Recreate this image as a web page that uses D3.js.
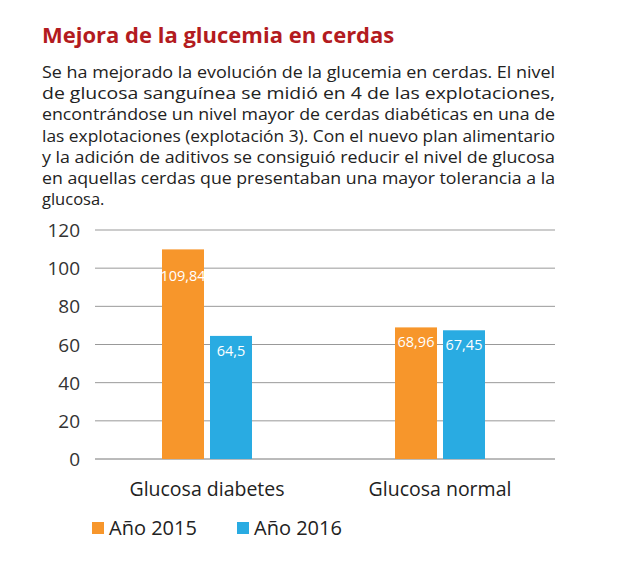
<!DOCTYPE html>
<html><head><meta charset="utf-8">
<script src="https://cdn.jsdelivr.net/npm/d3@7"></script>
<style>
body{margin:0;background:#fff;font-family:"Open Sans",sans-serif}
</style></head>
<body><svg id="c" width="621" height="573"></svg>
<script>
// ── Data ──────────────────────────────────────────────────────────────────────
const categories = ["Glucosa diabetes", "Glucosa normal"];
const seriesNames = ["Año 2015", "Año 2016"];
const values2015 = [109.84, 68.96];
const values2016 = [64.5, 67.45];
const yTicks = [0, 20, 40, 60, 80, 100, 120];
const colors = ["#f7962b", "#29abe2"];
const paragraph = [
  "Se ha mejorado la evolución de la glucemia en cerdas. El nivel",
  "de glucosa sanguínea se midió en 4 de las explotaciones,",
  "encontrándose un nivel mayor de cerdas diabéticas en una de",
  "las explotaciones (explotación 3). Con el nuevo plan alimentario",
  "y la adición de aditivos se consiguió reducir el nivel de glucosa",
  "en aquellas cerdas que presentaban una mayor tolerancia a la",
  "glucosa."
];

const svg = d3.select("#c");

svg.append("text").attr("x", 42).attr("y", 43)
  .attr("fill", "#b31b20").attr("font-size", 22).attr("font-weight", 700)
  .text("Mejora de la glucemia en cerdas");

paragraph.forEach((line, i) => {
  const t = svg.append("text").attr("x", 42).attr("y", 78 + i * 21.2)
    .attr("fill", "#222").attr("font-size", 16.5).text(line);
  if (i < paragraph.length - 1) t.attr("textLength", 513).attr("lengthAdjust", "spacingAndGlyphs");
});

// ── Chart ─────────────────────────────────────────────────────────────────────
const y = d3.scaleLinear().domain([0, 120]).range([459, 230]);
const barW = 42, gap = 6;
const centers = [207, 440];

svg.append("g").selectAll("line").data(yTicks).join("line")
  .attr("x1", 95).attr("x2", 555)
  .attr("y1", d => y(d)).attr("y2", d => y(d))
  .attr("stroke", d => d === 0 ? "#777" : "#999").attr("stroke-width", 1);

svg.append("g").selectAll("text").data(yTicks).join("text")
  .attr("x", 80).attr("y", d => y(d) + 7).attr("text-anchor", "end")
  .attr("font-size", 19).attr("fill", "#333").text(d => d);

const series = [values2015, values2016];
series.forEach((vals, s) => {
  const g = svg.append("g");
  const bx = (d, i) => centers[i] + (s === 0 ? -barW - gap / 2 : gap / 2);
  g.selectAll("rect").data(vals).join("rect")
    .attr("x", bx).attr("width", barW)
    .attr("y", d => y(d)).attr("height", d => y(0) - y(d))
    .attr("fill", colors[s]);
  g.selectAll("text").data(vals).join("text")
    .attr("x", (d, i) => bx(d, i) + barW / 2)
    .attr("y", d => y(d) + (d > 100 ? 32 : 20))
    .attr("text-anchor", "middle").attr("fill", "#fff").attr("font-size", 14.5)
    .text(d => String(d).replace(".", ","));
});

svg.append("g").selectAll("text").data(categories).join("text")
  .attr("x", (d, i) => centers[i]).attr("y", 496).attr("text-anchor", "middle")
  .attr("font-size", 19.5).attr("fill", "#222").text(d => d);

// ── Legend ────────────────────────────────────────────────────────────────────
const legX = [92, 237];
seriesNames.forEach((n, i) => {
  svg.append("rect").attr("x", legX[i]).attr("y", 522).attr("width", 12).attr("height", 12)
    .attr("fill", colors[i]);
  svg.append("text").attr("x", legX[i] + 17).attr("y", 535)
    .attr("font-size", 20).attr("fill", "#222").text(n);
});
</script></body></html>
